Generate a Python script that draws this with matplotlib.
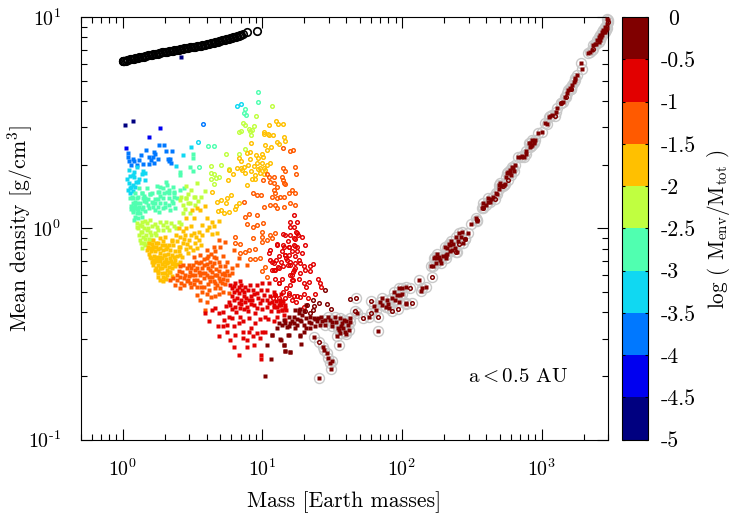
# -*- coding: utf-8 -*-
import numpy as np
import matplotlib
matplotlib.use("Agg")
import matplotlib.pyplot as plt
from matplotlib.colors import ListedColormap, BoundaryNorm
from matplotlib.cm import ScalarMappable

plt.rcParams["font.family"] = "cmr10"
plt.rcParams["mathtext.fontset"] = "cm"
plt.rcParams["axes.unicode_minus"] = False

# colour classes of log(Menv/Mtot)
bin_edges = [-5, -4.5, -4, -3.5, -3, -2.5, -2, -1.5, -1, -0.5, 0]
bin_colors = ["#000080", "#0000f0", "#0078ff", "#10d8f2", "#50ffb0",
              "#c0ff40", "#ffc000", "#ff5a00", "#e20000", "#800000"]
bin_labels = ["-5", "-4.5", "-4", "-3.5", "-3", "-2.5", "-2", "-1.5", "-1", "-0.5", "0"]

# all points below are (log10 mass, log10 density)
# planets without envelope
bare = [(0, .792), (.002, .791), (.004, .793), (.006, .792), (.008, .794), (.01, .793), (.02, .794), (.03, .796),
        (.04, .797), (.05, .799), (.06, .800), (.07, .802), (.08, .803), (.09, .805), (.10, .806), (.11, .808),
        (.12, .809), (.13, .811), (.14, .812), (.15, .813), (.16, .815), (.17, .816), (.18, .818), (.19, .819),
        (.20, .820), (.21, .822), (.22, .823), (.23, .825), (.24, .826), (.25, .827), (.26, .829), (.27, .830),
        (.28, .832), (.29, .833), (.30, .834), (.31, .835), (.32, .836), (.33, .838), (.34, .839), (.35, .840),
        (.36, .841), (.37, .843), (.38, .844), (.39, .845), (.40, .846), (.41, .847), (.42, .848), (.43, .850),
        (.44, .851), (.45, .852), (.46, .853), (.47, .854), (.48, .856), (.49, .857), (.50, .858), (.51, .859),
        (.52, .860), (.53, .861), (.54, .862), (.55, .863), (.56, .865), (.57, .866), (.58, .867), (.59, .868),
        (.60, .870), (.61, .872), (.62, .873), (.63, .875), (.64, .877), (.65, .878), (.66, .880), (.67, .882),
        (.68, .883), (.69, .885), (.70, .887), (.71, .889), (.72, .890), (.73, .892), (.74, .894), (.75, .896),
        (.76, .898), (.77, .899), (.78, .901), (.79, .903), (.80, .905), (.81, .907), (.82, .910), (.83, .912),
        (.84, .914), (.85, .916), (.86, .919), (.892, .928), (.961, .934)]

# filled squares, one list per class
sq_475 = [(.017, .489), (.077, .506), (.416, .812)]
sq_425 = [(.270, .473), (.189, .430), (.022, .381)]
sq_375 = [(.041, .355), (.036, .336), (.048, .317), (.077, .326), (.084, .317), (.117, .321), (.146, .306),
          (.170, .369), (.227, .362), (.232, .350), (.191, .337), (.201, .323), (.249, .329), (.189, .306),
          (.222, .307), (.261, .396), (.299, .394), (.311, .367), (.354, .367), (.323, .326), (.333, .320),
          (.344, .307), (.06, .30), (.10, .30), (.13, .345), (.215, .335), (.34, .33)]
sq_325 = [(.048, .276), (.084, .265), (.077, .252), (.136, .255), (.033, .232), (.160, .229), (.112, .219),
          (.072, .205), (.060, .197), (.041, .181), (.053, .169), (.079, .241), (.433, .347), (.488, .386),
          (.383, .295), (.105, .292), (.045, .215), (.05, .19), (.07, .175), (.09, .195), (.095, .22),
          (.12, .235), (.055, .245), (.145, .27), (.16, .26)]
sq_275 = [(.502, .350), (.502, .331), (.481, .292), (.502, .271), (.411, .266), (.411, .254), (.175, .192),
          (.246, .202), (.268, .197), (.311, .221), (.316, .205), (.287, .189), (.263, .172), (.299, .169),
          (.328, .181), (.359, .197), (.364, .165), (.407, .181), (.053, .142), (.136, .169), (.100, .145),
          (.144, .142), (.196, .161), (.208, .169), (.328, .165), (.136, .165), (.196, .162), (.256, .173),
          (.316, .173), (.368, .173), (.077, .142), (.112, .150), (.160, .142), (.208, .126), (.232, .118),
          (.268, .118), (.088, .110), (.077, .087), (.100, .071), (.088, .055), (.124, .071), (.148, .102),
          (.184, .110), (.328, .110), (.339, .087), (.375, .094), (.112, .087), (.232, .087), (.263, .079),
          (.304, .102), (.07, .12), (.06, .105), (.085, .125), (.075, .075), (.095, .095), (.125, .12),
          (.15, .13), (.17, .125), (.19, .095), (.215, .10), (.25, .14), (.29, .145), (.33, .145), (.35, .13),
          (.39, .145), (.285, .095), (.36, .12), (.16, .08), (.135, .055), (.11, .05), (.06, .09), (.08, .04),
          (.44, .19), (.10, .12), (.065, .15), (.09, .165), (.12, .19), (.15, .155), (.07, .10), (.10, .09),
          (.12, .10), (.14, .09), (.18, .14), (.23, .14), (.27, .155), (.30, .12), (.22, .12), (.25, .10), (.37, .15)]
sq_225 = [(.454, .200), (.533, .216), (.419, .150), (.452, .145), (.512, .147), (.588, .178), (.411, .134),
          (.455, .142), (.483, .118), (.431, .071), (.514, .150), (.100, .023), (.124, .016), (.136, -.016),
          (.148, -.040), (.124, -.055), (.172, .023), (.196, .039), (.244, .008), (.268, .031), (.196, -.016),
          (.232, -.024), (.364, .011), (.316, .008), (.160, -.079), (.136, -.095), (.208, -.055), (.172, -.008),
          (.11, .0), (.13, -.02), (.15, .0), (.17, -.03), (.19, -.05), (.15, -.07), (.18, -.07), (.12, -.03),
          (.10, .005), (.21, .01), (.23, .02), (.16, .035), (.135, .03), (.255, -.01), (.285, .015), (.33, -.01),
          (.345, .025), (.40, .03), (.445, .09), (.48, .07), (.43, .11), (.465, .16), (.49, .18), (.54, .13),
          (.56, .15), (.13, -.07), (.16, -.05), (.14, .01), (.18, .0), (.2, -.03), (.24, -.03), (.29, -.01),
          (.31, .03), (.38, .0), (.42, .02), (.47, .12), (.52, .11)]
sq_175 = [(.220, -.055), (.268, -.047), (.304, -.040), (.352, -.055), (.400, 0), (.455, 0), (.495, .087),
          (.531, .094), (.555, .087), (.591, .107), (.455, .047), (.507, .047), (.603, .047), (.639, .031),
          (.687, .036), (.675, -.021), (.411, -.040), (.447, -.032), (.471, -.055), (.507, -.024), (.543, -.016),
          (.603, -.008), (.411, -.087), (.483, -.087), (.543, -.055), (.531, -.095), (.196, -.095), (.232, -.110),
          (.196, -.134), (.244, -.134), (.292, -.126), (.340, -.103), (.375, -.110), (.208, -.158), (.256, -.173),
          (.316, -.165), (.375, -.150), (.423, -.134), (.232, -.197), (.280, -.213), (.340, -.205), (.304, -.237),
          (.375, -.181), (.184, -.087), (.256, -.071), (.220, -.087), (.268, -.095), (.304, -.079), (.268, -.134),
          (.292, -.158), (.340, -.142), (.232, -.150), (.280, -.189), (.316, -.197), (.364, -.165), (.411, -.158),
          (.256, -.213), (.175, -.105), (.19, -.12), (.21, -.10), (.225, -.13), (.25, -.10), (.265, -.115),
          (.285, -.105), (.31, -.10), (.325, -.12), (.355, -.125), (.385, -.13), (.40, -.11), (.215, -.15),
          (.245, -.155), (.27, -.155), (.31, -.145), (.325, -.16), (.355, -.17), (.39, -.17), (.22, -.175),
          (.24, -.19), (.265, -.19), (.30, -.18), (.33, -.185), (.35, -.19), (.255, -.23), (.285, -.23), (.32, -.22),
          (.35, -.225), (.27, -.245), (.29, -.25), (.185, -.07), (.21, -.075), (.235, -.07), (.29, -.06), (.33, -.08),
          (.36, -.08), (.39, -.06), (.43, -.07), (.45, -.10), (.47, -.115), (.50, -.105), (.38, -.03), (.43, -.015),
          (.49, .01), (.525, -.04), (.565, -.03), (.57, .015), (.62, .005), (.64, -.025), (.655, .01),
          (.20, -.14), (.225, -.16), (.24, -.14), (.26, -.15), (.28, -.14), (.30, -.125), (.30, -.16), (.345, -.155),
          (.37, -.135), (.41, -.125), (.28, -.17), (.25, -.2), (.3, -.21), (.33, -.205), (.31, -.24), (.2, -.11),
          (.235, -.09), (.28, -.08), (.32, -.09), (.35, -.06), (.40, -.09), (.44, -.05), (.52, -.07), (.46, -.075),
          (.49, -.03), (.56, -.08)]
sq_125 = [(.687, -.055), (.651, -.087), (.603, -.103), (.555, -.126), (.507, -.134), (.471, -.173), (.435, -.173),
          (.423, -.205), (.387, -.221), (.340, -.244), (.375, -.268), (.411, -.284), (.459, -.252), (.507, -.244),
          (.555, -.221), (.519, -.197), (.579, -.173), (.651, -.134), (.687, -.158), (.627, -.197), (.675, -.221),
          (.722, -.213), (.782, -.213), (.818, -.173), (.890, -.173), (.734, -.063), (.794, -.103), (.830, -.142),
          (.746, -.244), (.711, -.260), (.627, -.252), (.579, -.276), (.531, -.315), (.555, -.339), (.603, -.347),
          (.663, -.323), (.758, -.308), (.483, -.205), (.603, -.142), (.543, -.165), (.734, -.181), (.675, -.268),
          (.590, -.386), (.411, -.181), (.447, -.221), (.495, -.221), (.543, -.205), (.590, -.213), (.639, -.229),
          (.687, -.237), (.579, -.237), (.36, -.235), (.39, -.245), (.41, -.23), (.44, -.235), (.475, -.225),
          (.48, -.26), (.51, -.265), (.53, -.245), (.52, -.22), (.50, -.175), (.525, -.16), (.56, -.16), (.58, -.145),
          (.60, -.17), (.625, -.16), (.64, -.18), (.655, -.165), (.67, -.195), (.70, -.18), (.71, -.215), (.75, -.20),
          (.76, -.22), (.64, -.205), (.605, -.22), (.565, -.19), (.61, -.265), (.65, -.25), (.66, -.285), (.70, -.285),
          (.735, -.265), (.72, -.30), (.69, -.31), (.56, -.28), (.55, -.255), (.57, -.30), (.62, -.29), (.60, -.31),
          (.635, -.325), (.72, -.24), (.66, -.11), (.63, -.12), (.70, -.09), (.40, -.20), (.42, -.26), (.44, -.27),
          (.47, -.245), (.49, -.28), (.53, -.28), (.46, -.19), (.49, -.19), (.53, -.19), (.57, -.21), (.61, -.19),
          (.66, -.22), (.69, -.2), (.73, -.22), (.78, -.19), (.62, -.23), (.66, -.26), (.70, -.25), (.61, -.13),
          (.67, -.14), (.72, -.13), (.75, -.16)]
sq_075 = [(.770, -.268), (.805, -.260), (.841, -.252), (.877, -.276), (.913, -.268), (.961, -.268), (.997, -.260),
          (.794, -.300), (.830, -.308), (.865, -.323), (.901, -.339), (.961, -.308), (1.010, -.315), (1.057, -.323),
          (1.093, -.315), (1.129, -.339), (1.165, -.363), (.770, -.363), (.806, -.371), (.842, -.378), (.890, -.371),
          (.938, -.363), (.986, -.355), (1.033, -.371), (1.081, -.371), (1.141, -.386), (.758, -.418), (.663, -.378),
          (.639, -.386), (.586, -.402), (.620, -.441), (.684, -.463), (.718, -.463), (.687, -.512), (.727, -.433),
          (.782, -.426), (.837, -.421), (.902, -.426), (.950, -.449), (1.022, -.418), (.794, -.465), (.801, -.505),
          (.770, -.528), (.799, -.563), (.861, -.489), (.902, -.489), (.890, -.528), (.943, -.552), (.962, -.497),
          (.998, -.489), (1.022, -.489), (.993, -.599), (.993, -.620), (1.165, -.433), (1.105, -.418), (1.153, -.410),
          (.830, -.276), (.854, -.292), (.818, -.331), (.877, -.347), (.925, -.339), (.961, -.378), (1.069, -.347),
          (1.117, -.363), (1.081, -.363), (1.105, -.374), (1.141, -.386), (1.165, -.378), (1.129, -.347),
          (.78, -.285), (.80, -.275), (.82, -.29), (.85, -.27), (.87, -.30), (.90, -.29), (.93, -.29), (.94, -.31),
          (.92, -.32), (.88, -.33), (.85, -.34), (.83, -.355), (.80, -.34), (.78, -.32), (.76, -.35), (.74, -.37),
          (.78, -.38), (.81, -.395), (.85, -.36), (.87, -.38), (.90, -.39), (.92, -.36), (.97, -.33), (1.0, -.34),
          (1.03, -.34), (1.05, -.355), (1.10, -.345), (1.13, -.365), (1.15, -.345), (1.17, -.385), (1.11, -.39),
          (1.06, -.39), (1.00, -.38), (.95, -.40), (.98, -.43), (1.04, -.43), (1.08, -.44), (.86, -.44), (.83, -.45),
          (.92, -.47), (.75, -.46), (.72, -.395), (.69, -.40), (.86, -.52), (.93, -.51), (.98, -.52), (.89, -.56),
          (.83, -.60), (.75, -.49), (1.13, -.31), (1.08, -.30), (1.03, -.29), (.99, -.29), (1.05, -.26)]
sq_025 = [(1.017, -.698), (1.060, -.618), (1.033, -.552), (1.069, -.505), (1.117, -.449), (1.158, -.552),
          (1.165, -.583), (1.196, -.586), (1.129, -.525), (1.184, -.505), (1.153, -.433), (1.188, -.465),
          (1.225, -.449), (1.261, -.386), (1.273, -.441), (1.268, -.505), (1.236, -.386), (1.315, -.363),
          (1.260, -.402), (1.224, -.421), (1.188, -.418), (1.212, -.441), (1.272, -.433), (1.296, -.457),
          (1.332, -.446), (1.368, -.426), (1.421, -.421), (1.415, -.457), (1.380, -.465), (1.344, -.473),
          (1.296, -.489), (1.272, -.512), (1.188, -.505), (1.133, -.528), (1.152, -.552), (1.164, -.583),
          (1.196, -.588), (1.277, -.549), (1.071, -.506), (1.105, -.473), (1.176, -.468), (1.141, -.457),
          (1.248, -.457), (1.25, -.43), (1.31, -.425), (1.34, -.42), (1.39, -.44), (1.40, -.425), (1.35, -.45),
          (1.43, -.44), (1.285, -.41), (1.20, -.45), (1.16, -.45), (1.23, -.47), (1.31, -.47), (1.38, -.43),
          (1.27, -.38), (1.30, -.39)]
# the massive ones carry a grey ring
sq_giant = [(1.451, -.436), (1.487, -.433), (1.523, -.421), (1.554, -.426), (1.588, -.433), (1.624, -.426),
            (1.612, -.457), (1.499, -.465), (1.451, -.457), (1.547, -.481), (1.559, -.497), (1.619, -.481),
            (1.535, -.512), (1.368, -.517), (1.552, -.553), (1.435, -.560), (1.439, -.575), (1.463, -.591),
            (1.468, -.615), (1.499, -.627), (1.482, -.638), (1.489, -.667), (1.406, -.709), (1.829, -.486),
            (1.678, -.399), (1.762, -.421), (1.798, -.367), (1.817, -.386), (1.841, -.347), (1.857, -.363),
            (1.893, -.339), (1.882, -.371), (1.905, -.378), (1.965, -.315), (1.989, -.315), (1.977, -.284),
            (2.001, -.284), (2.025, -.279), (1.930, -.331), (1.977, -.347), (2.025, -.352), (2.032, -.358),
            (2.121, -.244), (2.138, -.295), (2.169, -.276), (2.145, -.284), (2.205, -.181), (2.245, -.166),
            (2.282, -.166), (2.312, -.142), (2.228, -.142), (2.252, -.122), (2.324, -.122), (2.343, -.079),
            (2.237, -.134), (2.266, -.134), (2.313, -.126), (2.320, -.095), (2.339, -.075), (2.368, -.075),
            (2.356, -.103), (2.380, -.095), (2.392, -.111), (2.411, -.024), (2.421, -.043), (2.452, -.052),
            (2.469, -.024), (2.493, .020), (2.531, .047), (2.540, .036), (2.583, .118), (2.571, .094),
            (2.619, .142), (2.631, .126), (2.655, .150), (2.674, .168), (2.691, .184), (2.703, .213),
            (2.727, .205), (2.746, .244), (2.774, .260), (2.774, .276), (2.798, .284), (2.810, .299),
            (2.834, .335), (2.870, .339), (2.887, .367), (2.913, .386), (2.930, .417), (2.946, .410),
            (2.918, .402), (2.977, .449), (3.001, .457), (3.037, .493), (3.049, .528), (3.072, .536),
            (3.108, .567), (3.137, .594), (3.168, .622), (3.192, .654), (3.216, .677), (3.228, .693),
            (3.252, .725), (3.287, .756), (3.283, .780), (3.347, .835), (3.371, .866), (3.395, .890),
            (3.407, .906), (3.431, .929), (3.455, .953), (3.467, .969), (3.443, .929), (3.419, .914),
            (2.619, .126), (2.691, .205), (2.762, .268), (2.786, .291), (2.851, .339), (2.906, .402),
            (2.942, .402), (3.025, .496), (3.061, .531), (3.204, .662), (3.240, .709), (3.335, .831),
            (3.359, .843), (3.407, .883), (3.424, .906), (3.478, .984), (3.455, .929),
            (1.47, -.42), (1.50, -.445), (1.53, -.445), (1.57, -.45), (1.60, -.44), (1.58, -.47), (1.60, -.50),
            (1.56, -.465), (1.59, -.49), (1.54, -.47), (1.63, -.445), (1.86, -.33), (1.90, -.36), (1.95, -.34),
            (1.94, -.30), (2.0, -.31), (2.27, -.15), (2.29, -.13), (2.22, -.18), (2.25, -.14), (2.31, -.09),
            (2.34, -.11), (2.35, -.06), (2.40, -.06), (2.43, -.02), (2.44, -.07), (2.39, -.04), (2.60, .11),
            (2.58, .10), (2.64, .14), (2.68, .16), (2.71, .20), (2.74, .21), (2.75, .26), (2.78, .25), (2.80, .27),
            (2.86, .34), (2.89, .35), (2.92, .39), (2.93, .395), (2.95, .42), (3.10, .55), (3.15, .60), (3.18, .64),
            (3.21, .66), (3.24, .70), (3.38, .87), (3.39, .87), (3.42, .89), (3.43, .915), (3.44, .94), (3.46, .94),
            (3.47, .95), (3.47, .99)]

# open circles, one list per class
op_375 = [(.572, .493)]
op_325 = [(.536, .410), (.818, .580), (.847, .588)]
op_275 = [(.610, .391), (.655, .389), (.545, .292), (.967, .646), (.969, .600), (.873, .563), (.866, .544),
          (.883, .536)]
op_225 = [(1.069, .580), (.955, .531), (.859, .498), (.873, .489), (.938, .485), (.902, .468), (.926, .465),
          (.835, .454), (.844, .460), (.914, .462), (.918, .443), (.873, .375), (.835, .353), (.736, .351),
          (.629, .296), (.701, .298), (.758, .281), (.631, .260), (.655, .255), (.667, .240), (.691, .241),
          (.631, .232), (.655, .210)]
op_175 = [(1.100, .507), (1.112, .495), (1.151, .493), (1.050, .487), (1.010, .457), (1.010, .446), (1.041, .448),
          (1.050, .441), (1.077, .441), (1.153, .433), (1.105, .410), (1.117, .399), (1.165, .413), (.916, .405),
          (1.019, .392), (1.060, .386), (.914, .362), (.890, .358), (.955, .345), (.995, .353), (1.031, .370),
          (1.005, .339), (.830, .331), (.849, .317), (.849, .287), (.821, .284), (.854, .276), (.878, .260),
          (.789, .255), (.763, .276), (.754, .230), (.890, .205), (.926, .233), (.945, .252), (.950, .232),
          (1.010, .284), (1.022, .276), (.986, .284), (.962, .307), (.969, .331), (1.053, .307), (.986, .260),
          (1.010, .257), (.938, .296), (.639, .170), (.746, .145), (.775, .158), (.675, .126), (.706, .134),
          (.742, .118), (.830, .118), (.813, .105), (.801, .090), (.680, .082), (.703, .087), (.723, .071),
          (.758, .079), (1.0, .31), (.97, .28), (1.03, .30), (.92, .27), (.90, .30), (.87, .29), (.91, .33)]
op_125 = [(1.218, .372), (1.196, .366), (1.148, .381), (1.146, .287), (1.160, .273), (1.232, .290), (1.244, .257),
          (1.033, .257), (1.045, .244), (1.081, .244), (1.057, .221), (1.081, .213), (1.105, .197), (1.141, .244),
          (1.153, .213), (1.148, .229), (1.165, .208), (1.002, .229), (.933, .165), (.962, .158), (.993, .158),
          (1.081, .181), (1.093, .165), (1.128, .147), (1.153, .150), (1.188, .165), (1.212, .181), (1.232, .169),
          (1.069, .150), (1.105, .142), (.865, .126), (.873, .055), (.901, .068), (.961, .063), (.892, .022),
          (.932, .008), (.961, .016), (1.002, .023), (.997, -.016), (.997, -.040), (.997, -.063), (.932, -.047),
          (.801, -.040), (.842, -.076), (.806, -.071), (.837, -.118), (.873, -.114), (.907, -.103), (.945, -.099),
          (.914, -.147), (.945, -.147), (.981, -.139), (1.022, -.185), (.998, -.204), (1.033, -.229), (1.093, -.024),
          (1.057, -.032), (1.069, -.047), (1.033, -.055), (1.010, .102), (1.057, .110), (1.093, .110), (1.105, .094),
          (1.153, .102), (1.201, .118), (1.232, .110)]
op_075 = [(1.201, .031), (1.225, .063), (1.201, .008), (1.225, .008), (1.249, .031), (1.148, -.027), (1.249, -.024),
          (1.225, -.047), (1.105, -.079), (1.153, -.087), (1.189, -.087), (1.232, -.084), (1.057, -.103), (1.045, -.118),
          (1.165, -.126), (1.177, -.150), (1.201, -.173), (1.225, -.197), (1.057, -.150), (1.081, -.165), (1.093, -.197),
          (1.069, -.197), (1.117, -.189), (1.213, -.221), (1.220, -.244), (1.117, -.260), (1.169, -.282), (1.249, -.323),
          (1.213, -.339), (1.189, -.315), (1.200, -.030), (1.243, -.016), (1.255, -.032), (1.284, -.043), (1.236, -.051),
          (1.102, -.073), (1.148, -.079), (1.188, -.087), (1.224, -.079), (1.308, -.079), (1.248, -.110), (1.284, -.115),
          (1.260, -.150), (1.165, -.126), (1.188, -.126), (1.169, -.142), (1.200, -.158), (1.184, -.173), (1.236, -.166),
          (1.272, -.166), (1.296, -.181), (1.344, -.181), (1.363, -.169), (1.339, -.200), (1.308, -.197), (1.236, -.189),
          (1.220, -.205), (1.200, -.221), (1.212, -.244), (1.069, -.158), (1.110, -.185), (1.081, -.197), (1.117, -.257),
          (1.296, -.257), (1.334, -.255), (1.315, -.279), (1.396, -.241), (1.411, -.260), (1.420, -.276), (1.380, -.311),
          (1.188, -.307), (1.165, -.331), (1.224, -.323), (1.272, -.326), (1.243, -.347), (1.093, -.315), (1.076, -.331),
          (1.117, -.331), (1.141, -.347), (1.296, -.374), (1.16, -.03), (1.18, -.06), (1.21, -.11), (1.23, -.13),
          (1.25, -.09), (1.14, -.11), (1.12, -.13), (1.10, -.15), (1.13, -.16), (1.15, -.18), (1.27, -.21), (1.26, -.24),
          (1.14, -.24), (1.09, -.24), (1.20, -.27), (1.15, -.30), (1.30, -.31), (1.33, -.33)]
op_025 = [(1.447, -.292), (1.363, -.339), (1.409, -.355), (1.464, -.358), (1.492, -.380), (1.368, -.367), (1.363, -.386),
          (1.308, -.394), (1.320, -.363), (1.339, -.402), (1.631, -.334)]
op_giant = [(1.409, -.539), (1.671, -.328), (1.662, -.394), (1.781, -.345), (1.779, -.399), (1.722, -.424),
            (1.827, -.418), (1.930, -.394), (1.970, -.381), (2.056, -.284), (2.073, -.352), (2.217, -.229),
            (2.411, -.075), (2.449, -.051), (2.385, -.111), (2.535, .039), (2.578, .094), (2.667, .138),
            (2.722, .200), (2.758, .228), (3.092, .532), (3.137, .594), (3.175, .622), (3.213, .657),
            (3.371, .848), (3.478, .976)]

xmin, xmax = 0.5, 3000
ymin, ymax = 0.1, 10
FS = 15.7
FS_TICK = 14.4


def draw(ax, pts, **kw):
    pts = np.array(pts, dtype=float)
    ax.plot(10**pts[:, 0], 10**pts[:, 1], ls="none", **kw)


fig = plt.figure(figsize=(7.36, 5.21), dpi=100)
ax = fig.add_axes([80.7/736, 81.5/521, 527.6/736, 422.5/521])

# rings first so the dots stay on top
for pts in (sq_giant, op_giant):
    draw(ax, pts, marker="o", ms=7.2, mfc="none", mec="#c8c8c8", mew=1.0, clip_on=False, zorder=2)

squares = [sq_475, sq_425, sq_375, sq_325, sq_275, sq_225, sq_175, sq_125, sq_075, sq_025]
circles = [[], [], op_375, op_325, op_275, op_225, op_175, op_125, op_075, op_025]
for col, sq, op in zip(bin_colors, squares, circles):
    draw(ax, sq, marker="s", ms=3.2, mfc=col, mec="none", zorder=3)
    if op:
        draw(ax, op, marker="o", ms=2.6, mfc="none", mec=col, mew=1.05, zorder=3)
draw(ax, sq_giant, marker="s", ms=3.2, mfc=bin_colors[-1], mec="none", zorder=3.1, clip_on=False)
draw(ax, op_giant, marker="o", ms=2.6, mfc="none", mec=bin_colors[-1], mew=1.05, zorder=3.1, clip_on=False)
draw(ax, bare, marker="o", ms=5.4, mfc="none", mec="black", mew=1.2, zorder=4)

ax.set_xscale("log")
ax.set_yscale("log")
ax.set_xlim(xmin, xmax)
ax.set_ylim(ymin, ymax)
ax.set_xticks([1, 10, 100, 1000])
ax.set_xticklabels([r"$10^{0}$", r"$10^{1}$", r"$10^{2}$", r"$10^{3}$"])
ax.set_yticks([0.1, 1, 10])
ax.set_yticklabels([r"$10^{\text{-}1}$", r"$10^{0}$", r"$10^{1}$"])
ax.tick_params(which="major", direction="in", length=8, width=0.8, top=True, right=True, labelsize=FS_TICK, pad=14)
ax.tick_params(which="minor", direction="in", length=4.3, width=0.8, top=True, right=True)
ax.tick_params(axis="y", which="major", pad=14)
ax.set_xlabel("Mass [Earth masses]", fontsize=FS, va="center")
ax.xaxis.set_label_coords(0.5, -(503 - 440)/422.5)
ax.set_ylabel(r"Mean density [g/cm$^3$]", fontsize=FS, va="center")
ax.yaxis.set_label_coords(-(80.7 - 20)/527.6, 0.5)
ax.text(0.735, 0.135, r"a${<}$0.5 AU", transform=ax.transAxes, fontsize=15.0)

# colour bar
cmap = ListedColormap(bin_colors)
norm = BoundaryNorm(bin_edges, cmap.N)
cax = fig.add_axes([621.7/736, 81.5/521, 26.6/736, 422.5/521])
cb = fig.colorbar(ScalarMappable(norm=norm, cmap=cmap), cax=cax, ticks=bin_edges, spacing="proportional")
cb.ax.minorticks_off()
cb.ax.tick_params(direction="in", length=2.5, width=0.8, left=True, right=True, labelright=False)
cb.outline.set_linewidth(0.8)
for val, lab in zip(bin_edges, bin_labels):
    # the 0 sits where it would without a hyphen in front
    off = 1.75 if lab == "0" else 1.48
    cax.annotate(lab, xy=(off, val), xycoords=cax.get_yaxis_transform(), xytext=(0, -1.5),
                 textcoords="offset points", fontsize=FS, va="center", ha="left", annotation_clip=False)
fig.text(718/736, 1 - 229/521, r"log ( M$_{\mathrm{env}}$/M$_{\mathrm{tot}}$ )", rotation=90,
         fontsize=15.2, ha="center", va="center")

fig.savefig("out.png", dpi=100)
